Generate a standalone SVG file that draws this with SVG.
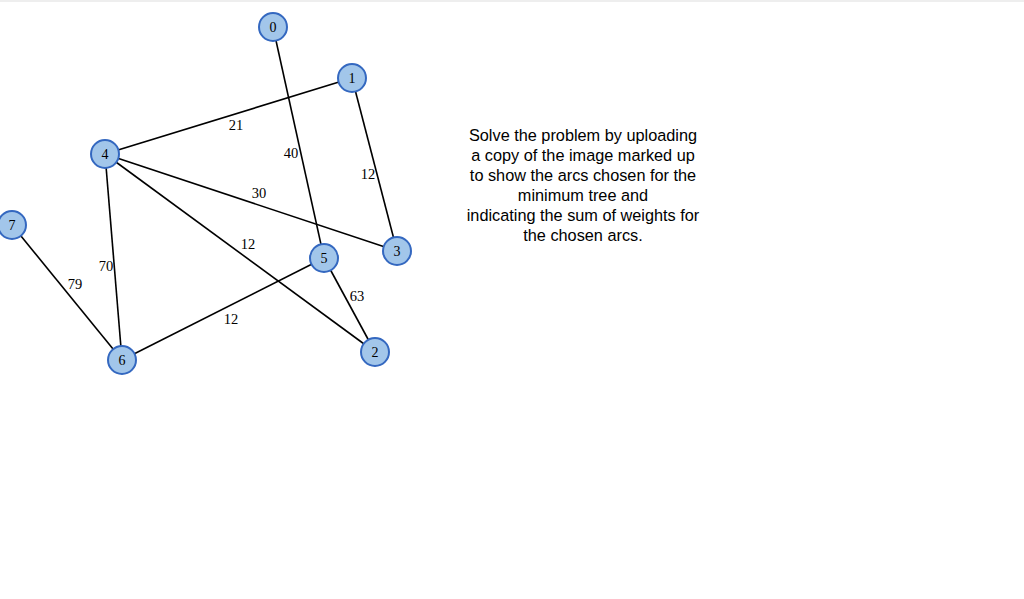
<svg xmlns="http://www.w3.org/2000/svg" width="1024" height="599" viewBox="0 0 1024 599">
<style>
.n circle{fill:#a2c6ea;stroke:#3468c0;stroke-width:2}
.n text{font-family:"Liberation Serif",serif;font-size:14px;text-anchor:middle;fill:#000}
.e line{stroke:#000;stroke-width:1.6}
.w{font-family:"Liberation Serif",serif;font-size:14.5px;text-anchor:middle;fill:#000}
.t{font-family:"Liberation Sans",Arial,sans-serif;font-size:16.3px;text-anchor:middle;fill:#000}
</style>
<rect width="1024" height="599" fill="#fff"/>
<line x1="0" y1="1" x2="1024" y2="1" stroke="#ddd" stroke-width="1"/>
<g id="edges" class="e">
<line x1="273" y1="27" x2="324" y2="258"/>
<line x1="352" y1="78" x2="105" y2="154"/>
<line x1="352" y1="78" x2="397" y2="251"/>
<line x1="105" y1="154" x2="397" y2="251"/>
<line x1="105" y1="154" x2="375" y2="352"/>
<line x1="105" y1="154" x2="122" y2="360"/>
<line x1="12" y1="225" x2="122" y2="360"/>
<line x1="324" y1="258" x2="122" y2="360"/>
<line x1="324" y1="258" x2="375" y2="352"/>
</g>
<g id="weights">
<text class="w" x="236" y="130">21</text>
<text class="w" x="291" y="158">40</text>
<text class="w" x="368" y="179">12</text>
<text class="w" x="259" y="198">30</text>
<text class="w" x="248" y="249">12</text>
<text class="w" x="106" y="271">70</text>
<text class="w" x="75" y="289">79</text>
<text class="w" x="357" y="301">63</text>
<text class="w" x="231" y="324">12</text>
</g>
<g id="node0" class="n"><circle cx="273" cy="27" r="14"/><text x="273" y="32">0</text></g>
<g id="node1" class="n"><circle cx="352" cy="78" r="14"/><text x="352" y="83">1</text></g>
<g id="node2" class="n"><circle cx="375" cy="352" r="14"/><text x="375" y="357">2</text></g>
<g id="node3" class="n"><circle cx="397" cy="251" r="14"/><text x="397" y="256">3</text></g>
<g id="node4" class="n"><circle cx="105" cy="154" r="14"/><text x="105" y="159">4</text></g>
<g id="node5" class="n"><circle cx="324" cy="258" r="14"/><text x="324" y="263">5</text></g>
<g id="node6" class="n"><circle cx="122" cy="360" r="14"/><text x="122" y="365">6</text></g>
<g id="node7" class="n"><circle cx="12" cy="225" r="14"/><text x="12" y="230">7</text></g>
<g id="instructions" class="t">
<text x="583" y="141">Solve the problem by uploading</text>
<text x="583" y="161">a copy of the image marked up</text>
<text x="583" y="181">to show the arcs chosen for the</text>
<text x="583" y="201">minimum tree and</text>
<text x="583" y="221">indicating the sum of weights for</text>
<text x="583" y="241">the chosen arcs.</text>
</g>
</svg>
